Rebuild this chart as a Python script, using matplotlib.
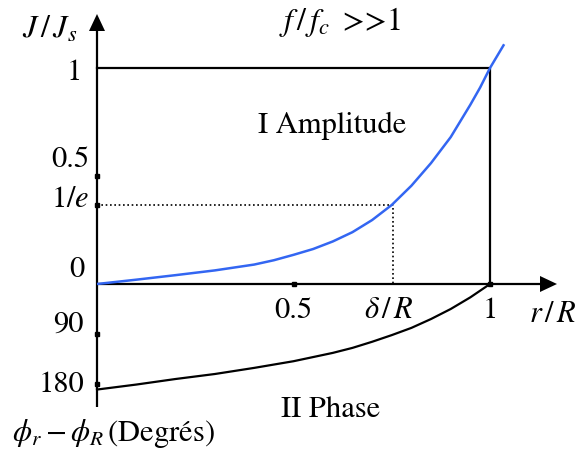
import numpy as np
import matplotlib
matplotlib.use("Agg")
import matplotlib.pyplot as plt
from matplotlib.patches import Polygon

plt.rcParams['font.family'] = ['STIXGeneral', 'DejaVu Serif']
plt.rcParams['mathtext.fontset'] = 'stix'

# Current density amplitude J/Js against r/R (skin effect, f >> fc)
r_amp = [0.0, 0.1, 0.2, 0.3, 0.4, 0.45, 0.5, 0.55, 0.6, 0.65, 0.7, 0.75,
         0.8, 0.85, 0.9, 0.95, 0.975, 1.0, 1.036]
j_amp = [0.0, 0.02, 0.041, 0.063, 0.09, 0.11, 0.135, 0.162, 0.197, 0.24, 0.296, 0.366,
         0.455, 0.56, 0.68, 0.83, 0.91, 1.0, 1.11]

# Phase shift phi_r - phi_R (degrees) against r/R
r_phase = [0.0, 0.1, 0.2, 0.3, 0.4, 0.5, 0.6, 0.65, 0.7, 0.75, 0.8, 0.85, 0.9, 0.95, 1.0]
phase = [190, 181, 171, 162, 151, 139, 124, 115, 104, 92, 79, 63, 45, 24, 0]

# Tick values
amp_ticks = [0.5, np.exp(-1)]
phase_ticks = [90, 180]
r_ticks = [0.5, 1.0]
r_delta = 0.752          # depth where J/Js = 1/e
j_delta = np.exp(-1)

W, H = 585, 454
X0, X1 = 97, 490          # pixel columns of r/R = 0 and 1
Y0, Y1 = 284, 68          # pixel rows of J/Js = 0 and 1
sx = X1 - X0
sy = Y0 - Y1
PH = 100.0 / sy / 180.0   # phase degrees -> J units (drawn downward)

fig = plt.figure(figsize=(W / 100, H / 100), dpi=100)
ax = fig.add_axes([0, 0, 1, 1])
ax.set_xlim(-X0 / sx, (W - X0) / sx)
ax.set_ylim(-(H - Y0) / sy, Y0 / sy)
ax.axis('off')


def px(xp, yp):
    return (xp - X0) / sx, (Y0 - yp) / sy


lw = 1.6
# axes lines
ax.plot([0, 0], [px(0, 407)[1], px(0, 22)[1]], color='k', lw=lw, solid_capstyle='butt')
ax.plot([0, px(548, 0)[0]], [0, 0], color='k', lw=lw, solid_capstyle='butt')
# arrow heads
tipy = px(0, 14)[1]
ax.add_patch(Polygon([(0, tipy), (-8 / sx, tipy - 17 / sy), (8 / sx, tipy - 17 / sy)],
                     closed=True, color='k', lw=0))
tipx = px(557, 0)[0]
ax.add_patch(Polygon([(tipx, 0), (tipx - 17 / sx, 8 / sy), (tipx - 17 / sx, -8 / sy)],
                     closed=True, color='k', lw=0))

# frame at J/Js = 1 and r/R = 1
ax.plot([0, 1, 1], [1, 1, 0], color='k', lw=lw)

# 1/e construction
ax.plot([0, r_delta, r_delta], [j_delta, j_delta, 0], color='k', lw=1.2, ls=(0, (1.0, 1.6)))

# curves
ax.plot(r_amp, j_amp, color='#3366F2', lw=1.8, solid_capstyle='butt')
ax.plot(r_phase, [-p * PH for p in phase], color='k', lw=1.6)

# tick marks
ax.plot([0] * len(amp_ticks), amp_ticks, 's', color='k', ms=3)
ax.plot([0] * len(phase_ticks), [-p * PH for p in phase_ticks], 's', color='k', ms=3)
ax.plot(r_ticks, [0] * len(r_ticks), 's', color='k', ms=3)

fs = 22


def label(xp, yp, s, ha='center', size=fs):
    x, y = px(xp, yp)
    ax.text(x, y, s, ha=ha, va='center', fontsize=size)


label(50, 30, r'$J\,/\,J_s$', size=23)
label(340, 22, r'$f\,/\,f_c\;\;$>>1', size=23)
label(332, 126, 'I Amplitude')
label(82, 73, '1', ha='right')
label(89, 160, '0.5', ha='right')
label(89, 200, r'$1/e$', ha='right')
label(84, 270, '0', ha='right')
label(84, 325, '90', ha='right')
label(84, 385, '180', ha='right')
y_lab = px(0, 311)[1]
ax.text(r_ticks[0], y_lab, '0.5', ha='center', va='center', fontsize=fs)
ax.text(r_delta - 0.01, y_lab, r'$\delta\,/\,R$', ha='center', va='center', fontsize=fs)
ax.text(r_ticks[1], y_lab, '1', ha='center', va='center', fontsize=fs)
label(553, 315, r'$r\,/\,R$')
label(331, 410, 'II Phase')
label(12, 434, r'$\phi_r-\phi_R\,$(Degrés)', ha='left')

fig.savefig('out.png', dpi=100)
